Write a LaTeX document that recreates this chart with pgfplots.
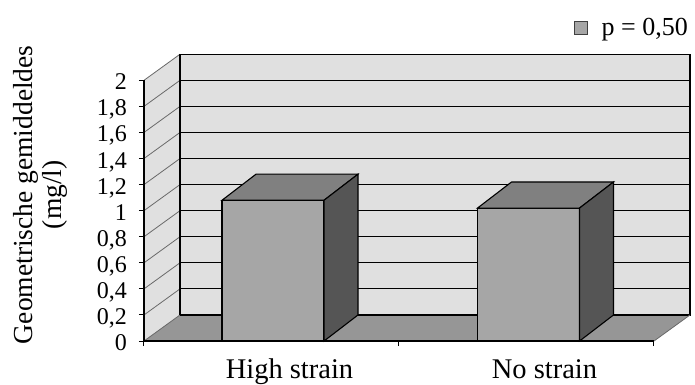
\documentclass[border=0pt]{standalone}
\usepackage{fontspec}
\setmainfont{Liberation Serif}
\usepackage{pgfplots}
\pgfplotsset{compat=1.18}

\definecolor{wallc}{RGB}{224,224,224}
\definecolor{floorc}{RGB}{150,150,150}
\definecolor{frontc}{RGB}{166,166,166}
\definecolor{topc}{RGB}{128,128,128}
\definecolor{sidec}{RGB}{85,85,85}
\definecolor{edgec}{RGB}{105,105,105}

% 3-D bar: #1 = centre of the front face, #2 = value
\newcommand{\threedbar}[2]{%
  \pgfmathsetmacro\tbA{#1-0.2}%
  \pgfmathsetmacro\tbB{#1+0.2}%
  \pgfmathsetmacro\tbC{#1-0.2+0.1333}%
  \pgfmathsetmacro\tbD{#1+0.2+0.1333}%
  \pgfmathsetmacro\tbY{#2+0.2}%
  \edef\tbDo{%
    \noexpand\addplot[fill=frontc, draw=black, line width=1.1pt, forget plot] coordinates {(\tbA,0) (\tbB,0) (\tbB,#2) (\tbA,#2)} -- cycle;
    \noexpand\addplot[fill=topc, draw=black, line width=1.1pt, forget plot] coordinates {(\tbA,#2) (\tbB,#2) (\tbD,\tbY) (\tbC,\tbY)} -- cycle;
    \noexpand\addplot[fill=sidec, draw=black, line width=1.1pt, forget plot] coordinates {(\tbB,0) (\tbD,0.2) (\tbD,\tbY) (\tbB,#2)} -- cycle;
  }\tbDo
}

\begin{document}
\begin{tikzpicture}
\begin{axis}[
  scale only axis, width=546pt, height=286.8pt,
  xmin=0, xmax=2.1412, ymin=0, ymax=2.2,
  clip=false,
  axis line style={draw=none},
  xtick pos=bottom, ytick pos=left,
  tick align=outside,
  major tick length=5pt,
  tick style={black, line width=1pt},
  ytick={0,0.2,0.4,0.6,0.8,1,1.2,1.4,1.6,1.8,2},
  yticklabel style={/pgf/number format/use comma, /pgf/number format/assume math mode=true,
    font=\fontsize{24}{26}\selectfont, inner sep=0pt, anchor=base east, xshift=-12pt, yshift=-9.5pt},
  xtick={0,1,2}, xticklabels={},
  extra x ticks={0.5706,1.5706},
  extra x tick labels={High strain, No strain},
  extra x tick style={major tick length=0pt,
    xticklabel style={anchor=base, inner sep=0pt, yshift=-37pt, font=\fontsize{28.5}{30}\selectfont}},
  ylabel={Geometrische gemiddeldes\\(mg/l)},
  ylabel style={align=center, font=\fontsize{27.5}{29.5}\selectfont,
    at={(axis description cs:-0.19,0.51)}, anchor=center},
  legend image code/.code={\draw[fill=frontc, draw=black!75, line width=0.8pt] (0pt,-6.5pt) rectangle (13pt,6.5pt);},
  legend style={at={(axis description cs:0.9963,1.0914)}, anchor=east, draw=none, fill=none,
    inner sep=0pt, font=\fontsize{26}{28}\selectfont, nodes={inner sep=0pt},
    /tikz/every odd column/.append style={column sep=14pt}},
]
\addlegendimage{fill=frontc}
\addlegendentry{p = 0,50}

% side wall
\addplot[fill=wallc, draw=none, forget plot] coordinates {(0,0) (0.1412,0.2) (0.1412,2.2) (0,2)} -- cycle;
% back wall
\addplot[fill=wallc, draw=none, forget plot] coordinates {(0.1412,0.2) (2.1412,0.2) (2.1412,2.2) (0.1412,2.2)} -- cycle;
% floor
\addplot[fill=floorc, draw=none, forget plot] coordinates {(0,0) (2,0) (2.1412,0.2) (0.1412,0.2)} -- cycle;
% grid lines on back wall
\pgfplotsinvokeforeach{0.4,0.6,0.8,1.0,1.2,1.4,1.6,1.8,2.0}{
  \addplot[black, line width=1pt, forget plot] coordinates {(0.1412,#1) (2.1412,#1)};
}
% diagonals on side wall
\pgfplotsinvokeforeach{0,0.2,0.4,0.6,0.8,1.0,1.2,1.4,1.6,1.8,2.0}{
  \addplot[edgec, line width=0.8pt, forget plot] coordinates {(0,#1) (0.1412,#1+0.2)};
}
% back wall border
\addplot[black, line width=1.2pt, forget plot] coordinates {(0.1412,0.2) (2.1412,0.2) (2.1412,2.2) (0.1412,2.2) (0.1412,0.2)};
% floor right edge
\addplot[edgec, line width=0.8pt, forget plot] coordinates {(2,0) (2.1412,0.2)};
% front axis lines
\addplot[black, line width=1.2pt, forget plot] coordinates {(0,2) (0,0) (2,0)};

% bars
\threedbar{0.506}{1.08}
\threedbar{1.508}{1.02}

% page box
\path (axis cs:-0.5647,-0.3222) rectangle (axis cs:2.1608,2.616);
\end{axis}
\end{tikzpicture}
\end{document}
